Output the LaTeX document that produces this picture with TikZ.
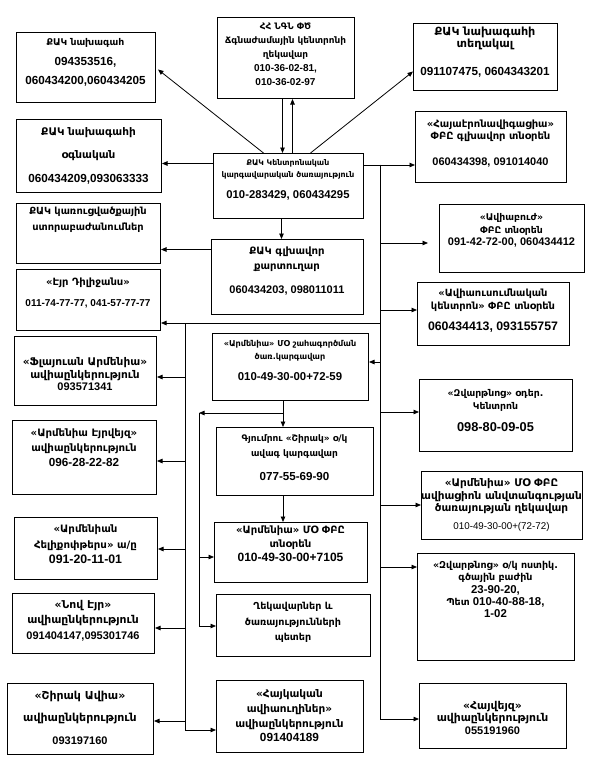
\documentclass[tikz,border=0pt]{standalone}
\usepackage{fontspec}
\setmainfont{Liberation Sans}
\newfontfamily\hy{DejaVu Sans}
\usetikzlibrary{arrows.meta,calc}
\def\hysize{10}
\newcommand\ab[1]{{\hy\bfseries\fontsize{\hysize}{10}\selectfont #1}}
\newcommand\ar[2][7.8]{{\hy\fontsize{#1}{10}\selectfont #2}}
\newcommand\mkbox[5]{\node[box,minimum width={#4-#2},minimum height={#5-#3}] (#1) at (#2,#3) {};}
\begin{document}
\begin{tikzpicture}[x=1pt,y=-1pt,
 box/.style={draw,line width=1pt,anchor=north west,inner sep=0pt},
 txt/.style={align=center,inner sep=0pt},
 sk/.style 2 args={font=\bfseries\fontsize{#1}{#2}\selectfont},
 hy/.code={\def\hysize{#1}},
 ln/.style={line width=0.8pt},
 arr/.style={ln,-{Triangle[length=5.5pt,width=4.5pt]}}]
\fill[white] (0,0) rectangle (590,769);
\useasboundingbox (0,0) rectangle (590,769);
% boxes
\mkbox{A}{16}{32}{155}{102}
\mkbox{B}{217}{17}{354}{98}
\mkbox{C}{413}{23}{557}{90}
\mkbox{D}{16}{119}{161}{192}
\mkbox{E}{16}{203}{160}{263}
\mkbox{F}{16}{269}{160}{330}
\mkbox{G}{213}{153}{363}{218}
\mkbox{H}{211}{239}{363}{314}
\mkbox{I}{415}{111}{566}{182}
\mkbox{J}{439}{204}{584}{272}
\mkbox{K}{417}{282}{569}{345}
\mkbox{L}{212}{333}{368}{400}
\mkbox{M}{216}{427}{373}{495}
\mkbox{N}{214}{522}{367}{582}
\mkbox{O}{216}{594}{370}{656}
\mkbox{P}{216}{680}{363}{752}
\mkbox{Q}{14}{336}{156}{405}
\mkbox{R}{12}{420}{156}{494}
\mkbox{S}{14}{517}{157}{579}
\mkbox{T}{12}{593}{154}{653}
\mkbox{U}{7}{683}{153}{754}
\mkbox{V}{419}{379}{572}{451}
\mkbox{W}{421}{471}{582}{539}
\mkbox{X}{417}{553}{574}{660}
\mkbox{Y}{419}{683}{566}{748}
% texts
\node[txt,hy=9.3,sk={11.7}{19.5}] (At) at (85.5,62.5) {\ab{ՔԱԿ նախագահ}\\094353516,\\060434200,060434205};
\node[txt,hy=8.9,sk={10}{14}] (Bt) at (285.5,54) {\ab{ՀՀ ՆԳՆ ՓԾ}\\\ab{Ճգնաժամային կենտրոնի}\\\ab{ղեկավար}\\010-36-02-81,\\010-36-02-97};
\node[txt,hy=11.2,sk={11.7}{12}] (Ct) at (485,52) {\ab{ՔԱԿ նախագահի}\\\ab{տեղակալ}\\[16pt]091107475, 0604343201};
\node[txt,hy=10.5,sk={11.7}{23.5}] (Dt) at (88.5,155.5) {\ab{ՔԱԿ նախագահի}\\\ab{օգնական}\\060434209,093063333};
\node[txt,hy=9.8,sk={11}{16}] (Et) at (88,220) {\ab{ՔԱԿ կառուցվածքային}\\\ab{ստորաբաժանումներ}};
\node[txt,hy=10,sk={10}{21}] (Ft) at (88,292.5) {\ab{«Էյր Դիլիջանս»}\\011-74-77-77, 041-57-77-77};
\node[txt,sk={11.3}{12}] (Gt) at (288,179.5) {\ar{ՔԱԿ Կենտրոնական}\\\ar{կարգավարական ծառայություն}\\[9pt]010-283429, 060434295};
\node[txt,hy=10.1,sk={11}{15}] (Ht) at (287,271.5) {\ab{ՔԱԿ գլխավոր}\\\ab{քարտուղար}\\[9pt]060434203, 098011011};
\node[txt,hy=10,sk={11}{12}] (It) at (490.5,144) {\ab{«Հայաէրոնավիգացիա»}\\\ab{ՓԲԸ գլխավոր տնօրեն}\\[14pt]060434398, 091014040};
\node[txt,hy=9.3,sk={11}{12.5}] (Jt) at (511.5,230.5) {\ab{«Ավիաբուժ»}\\\ab{ՓԲԸ տնօրեն}\\091-42-72-00, 060434412};
\node[txt,hy=9.9,sk={12.3}{13}] (Kt) at (493,311) {\ab{«Ավիաուսումնական}\\\ab{կենտրոն» ՓԲԸ տնօրեն}\\[8pt]060434413, 093155757};
\node[txt,sk={11.4}{13}] (Lt) at (290,360) {\ar[8.1]{«Արմենիա» ՄՕ շահագործման}\\\ar[8.1]{ծառ.կարգավար}\\[8pt]010-49-30-00+72-59};
\node[txt,hy=9,sk={11.6}{15}] (Mt) at (294.5,457.5) {\ab{Գյումրու «Շիրակ» օ/կ}\\\ab{ավագ կարգավար}\\[9pt]077-55-69-90};
\node[txt,hy=10.1,sk={12}{14}] (Nt) at (290.5,544) {\ab{«Արմենիա» ՄՕ ՓԲԸ}\\\ab{տնօրեն}\\010-49-30-00+7105};
\node[txt,hy=9.6,sk={11}{15.5}] (Ot) at (293,622.5) {\ab{Ղեկավարներ և}\\\ab{ծառայությունների}\\\ab{պետեր}};
\node[txt,hy=10.5,sk={11.8}{14.7}] (Pt) at (289.5,716) {\ab{«Հայկական}\\\ab{ավիաուղիներ»}\\\ab{ավիաընկերություն}\\091404189};
\node[txt,hy=10.6,sk={11}{12.5}] (Qt) at (85,374.5) {\ab{«Ֆլայուան Արմենիա»}\\\ab{ավիաընկերություն}\\093571341};
\node[txt,hy=10.2,sk={11.7}{15}] (Rt) at (84,448) {\ab{«Արմենիա Էյրվեյզ»}\\\ab{ավիաընկերություն}\\096-28-22-82};
\node[txt,hy=10.2,sk={12.3}{15.5}] (St) at (85.5,544.5) {\ab{«Արմենիան}\\\ab{Հելիքոփթերս» ա/ը}\\091-20-11-01};
\node[txt,hy=10.8,sk={11}{15.5}] (Tt) at (83,620.5) {\ab{«Նով Էյր»}\\\ab{ավիաընկերություն}\\091404147,095301746};
\node[txt,hy=11,sk={11}{22.5}] (Ut) at (80,717.5) {\ab{«Շիրակ Ավիա»}\\\ab{ավիաընկերություն}\\093197160};
\node[txt,hy=9.3,sk={12.8}{13}] (Vt) at (495.5,410.5) {\ab{«Զվարթնոց» օդեր.}\\\ab{Կենտրոն}\\[9pt]098-80-09-05};
\node[txt,hy=10.5,sk={11}{12.5}] (Wt) at (501.5,505) {\ab{«Արմենիա» ՄՕ ՓԲԸ}\\\ab{ավիացիոն անվտանգության}\\\ab{ծառայության ղեկավար}\\[5pt]{\mdseries\fontsize{9.8}{10}\selectfont 010-49-30-00+(72-72)}};
\node[txt,hy=9.5,sk={11.4}{12.25}] (Xt) at (495.5,589.5) {\ab{«Զվարթնոց» օ/կ ոստիկ.}\\\ab{գծային բաժին}\\23-90-20,\\\ab{Պետ} 010-40-88-18,\\1-02};
\node[txt,hy=10.8,sk={11}{12.5}] (Yt) at (492.5,717.5) {\ab{«Հայվեյզ»}\\\ab{ավիաընկերություն}\\055191960};
% top connectors
\draw[arr] ($(G.north)+(-25,0)$) -- ($(A.east)+(2,2)$);
\draw[arr] ($(G.north)+(22,0)$) -- ($(C.west)+(0,14.5)$);
\draw[arr] ($(B.south)+(-3.5,0)$) -- ($(B.south|-G.north)+(-3.5,0)$);
\draw[arr] ($(B.south|-G.north)+(6.5,0)$) -- ($(B.south)+(6.5,0)$);
\draw[arr] ($(G.west|-D.east)+(0,7.5)$) -- ($(D.east)+(0,7.5)$);
\draw[arr] ($(G.east|-I.west)+(0,18)$) -- ($(I.west)+(0,18)$);
\draw[arr] ($(G.south)+(-7,0)$) -- ($(G.south|-H.north)+(-7,0)$);
\draw[arr] ($(H.west)+(0,-27.5)$) -- ($(E.east|-H.west)+(0,-27.5)$);
% right trunk
\coordinate (tI) at (380,164.5);
\coordinate (tJ) at (380,243);
\coordinate (tK) at (380,310);
\coordinate (tF) at (380,323);
\coordinate (tL) at (380,362);
\coordinate (tV) at (380,412);
\coordinate (tW) at (380,505);
\coordinate (tX) at (380,567);
\coordinate (tY) at (380,719);
\draw[ln] (tI) -- (tY);
\draw[arr] (tJ) -- ($(J.west|-tJ)+(-11,0)$);
\draw[arr] (tK) -- (K.west|-tK);
\draw[arr] (tF) -- (F.east|-tF);
\draw[arr] (tL) -- (L.east|-tL);
\draw[arr] (tV) -- (V.west|-tV);
\draw[arr] (tW) -- (W.west|-tW);
\draw[arr] (tX) -- (X.west|-tX);
\draw[arr] (tY) -- (Y.west|-tY);
% left trunk
\coordinate (lF) at (185,323);
\coordinate (lQ) at (185,377);
\coordinate (lR) at (185,461);
\coordinate (lS) at (185,549);
\coordinate (lT) at (185,628);
\coordinate (lU) at (185,721);
\coordinate (lP) at (185,730);
\draw[arr] (lF) -- (lP) -- (P.west|-lP);
\draw[arr] (lQ) -- (Q.east|-lQ);
\draw[arr] (lR) -- (R.east|-lR);
\draw[arr] (lS) -- (S.east|-lS);
\draw[arr] (lT) -- (T.east|-lT);
\draw[arr] (lU) -- (U.east|-lU);
% inner column
\coordinate (cx) at (283,413);
\coordinate (iM) at (199,413);
\coordinate (iN) at (199,557);
\coordinate (iO) at (199,626);
\draw[arr] (cx|-L.south) -- (cx|-M.north);
\draw[arr] (cx|-M.south) -- (cx|-N.north);
\draw[arr] (cx) -- (iM);
\draw[ln] (iM) -- (iO);
\draw[arr] (iN) -- (N.west|-iN);
\draw[arr] (iO) -- (O.west|-iO);
\end{tikzpicture}
\end{document}
